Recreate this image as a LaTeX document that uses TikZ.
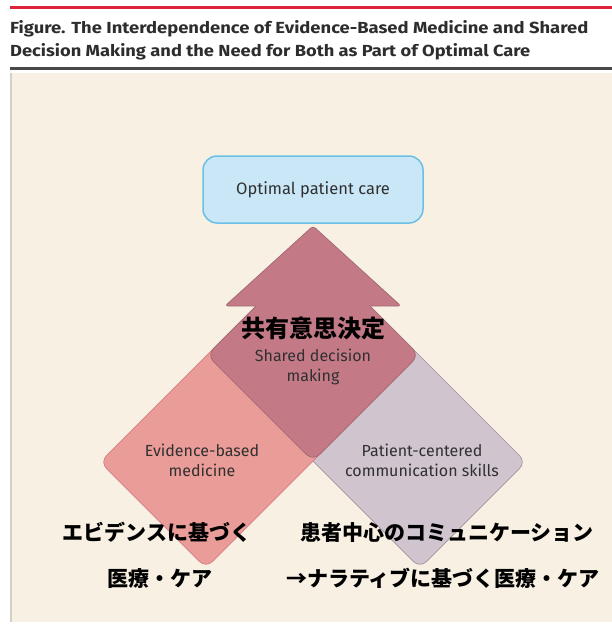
\documentclass[tikz,border=0pt]{standalone}
\usepackage{fontspec}
\setmainfont{Fira Sans}
\newfontfamily\cjk{Noto Sans CJK JP}
\newfontfamily\titlefont{Fira Sans}
\definecolor{redline}{RGB}{222,36,54}
\definecolor{darkline}{RGB}{72,72,72}
\definecolor{titlegray}{RGB}{45,45,45}
\definecolor{panel}{RGB}{248,240,226}
\definecolor{panelborder}{RGB}{212,208,200}
\definecolor{boxfill}{RGB}{201,231,246}
\definecolor{boxborder}{RGB}{108,192,230}
\definecolor{sdmfill}{RGB}{196,122,134}
\definecolor{sdmline}{RGB}{160,104,116}
\definecolor{ebmfill}{RGB}{234,156,152}
\definecolor{ebmline}{RGB}{214,126,134}
\definecolor{pccfill}{RGB}{208,196,207}
\definecolor{pccline}{RGB}{160,146,158}
\definecolor{labgray}{RGB}{48,48,48}
\begin{document}
\begin{tikzpicture}[x=1pt,y=-1pt,
  lab/.style={align=center,inner sep=0pt,text=labgray,font=\fontsize{16}{20}\selectfont},
  jlab/.style={inner sep=0pt,anchor=base,text=black,font=\cjk\bfseries\fontsize{21}{24}\selectfont},
  shapeline/.style={line width=0.7pt}]
\useasboundingbox (0,0) rectangle (612,625);
\fill[white] (0,0) rectangle (612,625);
% header rules
\fill[redline] (10,5.5) rectangle (612,8.5);
\fill[darkline] (10,67) rectangle (612,69.5);
% title
\node[anchor=base west,inner sep=0pt,text=titlegray] (t1) at (10,33)
  {\resizebox{578pt}{13pt}{\titlefont\bfseries Figure. The Interdependence of Evidence-Based Medicine and Shared}};
\node[anchor=base west,inner sep=0pt,text=titlegray] (t2) at (10,56)
  {\resizebox{520pt}{13pt}{\titlefont\bfseries Decision Making and the Need for Both as Part of Optimal Care}};
% panel
\fill[panel] (10,73) rectangle (612,622);
\draw[panelborder,line width=1.5pt] (10.75,73) -- (10.75,622);
% right diamond (patient-centered)
\draw[shapeline,draw=pccline,fill=pccfill,rounded corners=9pt]
  (526,462) -- (313,249) -- (207,355) -- (420,568) -- cycle;
% left diamond (evidence-based)
\draw[shapeline,draw=ebmline,fill=ebmfill,rounded corners=9pt]
  (100,462) -- (313,249) -- (419,355) -- (206,568) -- cycle;
% shared decision making square
\draw[shapeline,draw=sdmline,fill=sdmfill,rounded corners=9pt]
  (313,249) -- (419,355) -- (313,461) -- (207,355) -- cycle;
% arrow head on top of it
\fill[sdmfill,rounded corners=3pt] (225,306) -- (313,226) -- (401,306) -- cycle;
\draw[shapeline,draw=sdmline,rounded corners=3pt]
  (256,306) -- (225,306) -- (313,226) -- (401,306) -- (370,306);
% top box
\node[draw=boxborder,fill=boxfill,line width=1.5pt,rounded corners=14pt,
  minimum width=220pt,minimum height=67pt,inner sep=0pt,text=labgray,
  font=\fontsize{16.5}{20}\selectfont] (opt) at (313,189.5) {Optimal patient care};
% labels
\node[lab] (sdm) at (313,367) {Shared decision\\making};
\node[lab] (ebm) at (202,460) {Evidence-based\\medicine};
\node[lab] (pcc) at (422,460) {Patient-centered\\communication skills};
\node[jlab,font=\cjk\bfseries\fontsize{24}{28}\selectfont] (jsdm) at (313,337) {共有意思決定};
\node[jlab] (jebm1) at (157,540) {エビデンスに基づく};
\node[jlab] (jebm2) at (160,586) {医療・ケア};
\node[jlab] (jpcc1) at (447,540) {患者中心のコミュニケーション};
\node[jlab] (jpcc2) at (443,586) {→ナラティブに基づく医療・ケア};
\end{tikzpicture}
\end{document}
